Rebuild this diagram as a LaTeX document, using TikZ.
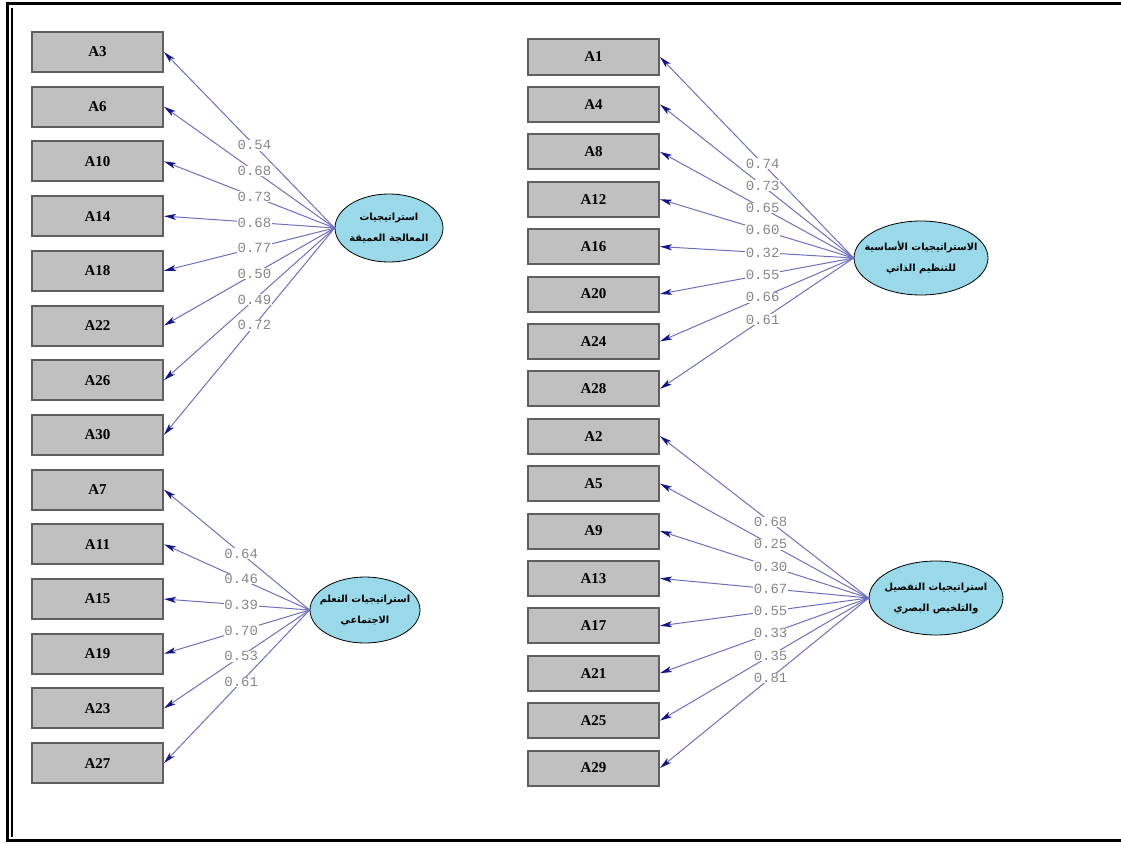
\documentclass[tikz,border=0pt]{standalone}
\usepackage{fontspec}
\setmainfont{Liberation Serif}
\newfontfamily\arabicfont[Script=Arabic]{DejaVu Sans}
\newfontfamily\monofont{Liberation Mono}
\TeXXeTstate=1
\usetikzlibrary{shapes.geometric,arrows.meta}

\definecolor{boxgray}{RGB}{192,192,192}
\definecolor{boxedge}{RGB}{95,95,95}
\definecolor{latentblue}{RGB}{153,217,234}
\definecolor{pathblue}{RGB}{110,110,190}
\definecolor{tipblue}{RGB}{20,20,135}
\definecolor{labgray}{RGB}{135,135,135}

\tikzset{
  ind/.style={rectangle, draw=boxedge, line width=2pt, fill=boxgray,
    minimum width=131pt, inner sep=0pt,
    font=\bfseries\fontsize{15}{17}\selectfont},
  indL/.style={ind, minimum height=40pt},
  indR/.style={ind, minimum height=35pt},
  lat/.style={ellipse, draw=black, line width=0.8pt, fill=latentblue,
    inner xsep=-30pt, inner ysep=-14pt, align=center,
    font=\arabicfont\bfseries\fontsize{9.8}{21}\selectfont},
  loading/.style={draw=pathblue, line width=1pt,
    -{Stealth[length=12pt,width=6pt,inset=3pt,color=tipblue]}},
  lab/.style={fill=white, inner sep=0.6pt, text=labgray,
    font=\monofont\fontsize{14}{14}\selectfont},
  frame/.style={draw=black, line cap=rect}
}

\begin{document}
\begin{tikzpicture}[x=1pt,y=-1pt]
\useasboundingbox (0,0) rectangle (1121,843);

% outer frame
\draw[frame, line width=3pt] (7,840) -- (7,4) -- (1121,4);
\draw[frame, line width=3pt] (7,840) -- (1121,840);
\draw[frame, line width=1.4pt] (12,9) -- (12,836);

% observed indicators, left column
\foreach \n/\i in {A3/0,A6/1,A10/2,A14/3,A18/4,A22/5,A26/6,A30/7,
                   A7/8,A11/9,A15/10,A19/11,A23/12,A27/13}
  \node[indL] (\n) at (97.5,{52+54.7*\i}) {\n};

% observed indicators, right column
\foreach \n/\i in {A1/0,A4/1,A8/2,A12/3,A16/4,A20/5,A24/6,A28/7,
                   A2/8,A5/9,A9/10,A13/11,A17/12,A21/13,A25/14,A29/15}
  \node[indR] (\n) at (593.5,{57+47.4*\i}) {\n};

% latent factors
\node[lat, minimum width=108pt, minimum height=68pt] (e1) at (389,228)
  {\beginR استراتيجيات\endR\\\beginR المعالجة العميقة\endR};
\node[lat, minimum width=134pt, minimum height=74pt] (e2) at (921,258)
  {\beginR الاستراتيجيات الأساسية\endR\\\beginR للتنظيم الذاتي\endR};
\node[lat, minimum width=110pt, minimum height=66pt] (e3) at (365,610)
  {\beginR استراتيجيات التعلم\endR\\\beginR الاجتماعي\endR};
\node[lat, minimum width=134pt, minimum height=74pt] (e4) at (936,598)
  {\beginR استراتيجيات التفصيل\endR\\\beginR والتلخيص البصري\endR};

\def\loadings{e1/A3/0.54, e1/A6/0.68, e1/A10/0.73, e1/A14/0.68,
  e1/A18/0.77, e1/A22/0.50, e1/A26/0.49, e1/A30/0.72,
  e2/A1/0.74, e2/A4/0.73, e2/A8/0.65, e2/A12/0.60,
  e2/A16/0.32, e2/A20/0.55, e2/A24/0.66, e2/A28/0.61,
  e3/A7/0.64, e3/A11/0.46, e3/A15/0.39, e3/A19/0.70,
  e3/A23/0.53, e3/A27/0.61,
  e4/A2/0.68, e4/A5/0.25, e4/A9/0.30, e4/A13/0.67,
  e4/A17/0.55, e4/A21/0.33, e4/A25/0.35, e4/A29/0.81}

% factor loadings: paths first, values on top
\foreach \e/\n/\v in \loadings
  \draw[loading] (\e.west) -- coordinate[pos=0.47] (v-\n) (\n.east);
\foreach \e/\n/\v in \loadings
  \node[lab] at (v-\n) {\v};
\end{tikzpicture}
\end{document}
